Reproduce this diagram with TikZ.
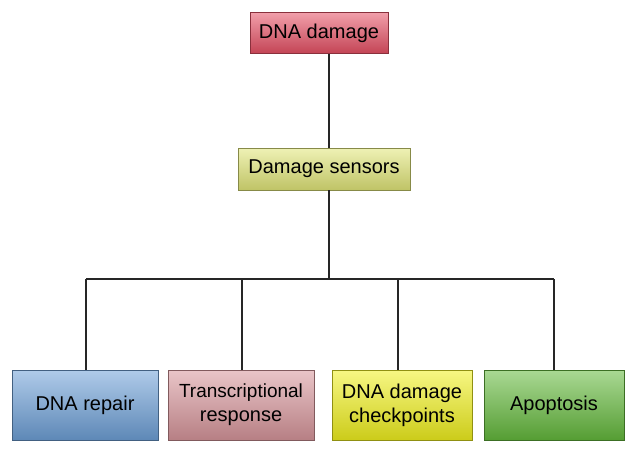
\documentclass[tikz,border=0pt]{standalone}
\usepackage{fontspec}
\setmainfont{Liberation Sans}
\usetikzlibrary{positioning}

\tikzset{
	box/.style={draw=#1!60!black, thick, minimum height=42pt, align=center, inner xsep=2pt,
		top color=#1!55, bottom color=#1!85!black, font=\fontsize{20}{24}\selectfont},
	bigbox/.style={box=#1, minimum height=70pt, minimum width=142pt},
	link/.style={draw=black!85, line width=1.3pt}
}

\definecolor{dnared}{RGB}{230,80,100}
\definecolor{sensorgreen}{RGB}{225,230,120}
\definecolor{repairblue}{RGB}{110,160,215}
\definecolor{transpink}{RGB}{215,150,155}
\definecolor{checkyellow}{RGB}{240,240,30}
\definecolor{apopgreen}{RGB}{100,185,60}

\begin{document}
\begin{tikzpicture}[x=1pt, y=-1pt]

	\useasboundingbox (0,0) rectangle (640,463);

	% Top of the tree
	\node[box=dnared, minimum width=138pt, minimum height=41pt] (damage) at (319,33) {DNA damage};
	\node[box=sensorgreen, minimum width=172pt] (sensors) at (324,169) {Damage sensors};

	% Outcomes
	\node[bigbox=repairblue, minimum width=146pt] (repair) at (85,405) {DNA repair};
	\node[bigbox=transpink, minimum width=146pt] (transcription) at (241,405) {\fontsize{19}{23}\selectfont Transcriptional\\ response};
	\node[bigbox=checkyellow, minimum width=140pt] (checkpoints) at (402,405) {DNA damage\\ checkpoints};
	\node[bigbox=apopgreen, minimum width=140pt] (apoptosis) at (554,405) {Apoptosis};

	\coordinate (hub) at (329,279);
	\coordinate (left_end) at (86,279);
	\coordinate (mid_left) at (242,279);
	\coordinate (mid_right) at (398,279);
	\coordinate (right_end) at (554,279);

	% Connectors
	\draw[link] (damage.south -| hub) -- (sensors.north -| hub);
	\draw[link] (sensors.south -| hub) -- (hub);
	\draw[link] (left_end) -- (right_end);
	\draw[link] (left_end) -- (left_end |- repair.north);
	\draw[link] (mid_left) -- (mid_left |- transcription.north);
	\draw[link] (mid_right) -- (mid_right |- checkpoints.north);
	\draw[link] (right_end) -- (right_end |- apoptosis.north);

\end{tikzpicture}
\end{document}
